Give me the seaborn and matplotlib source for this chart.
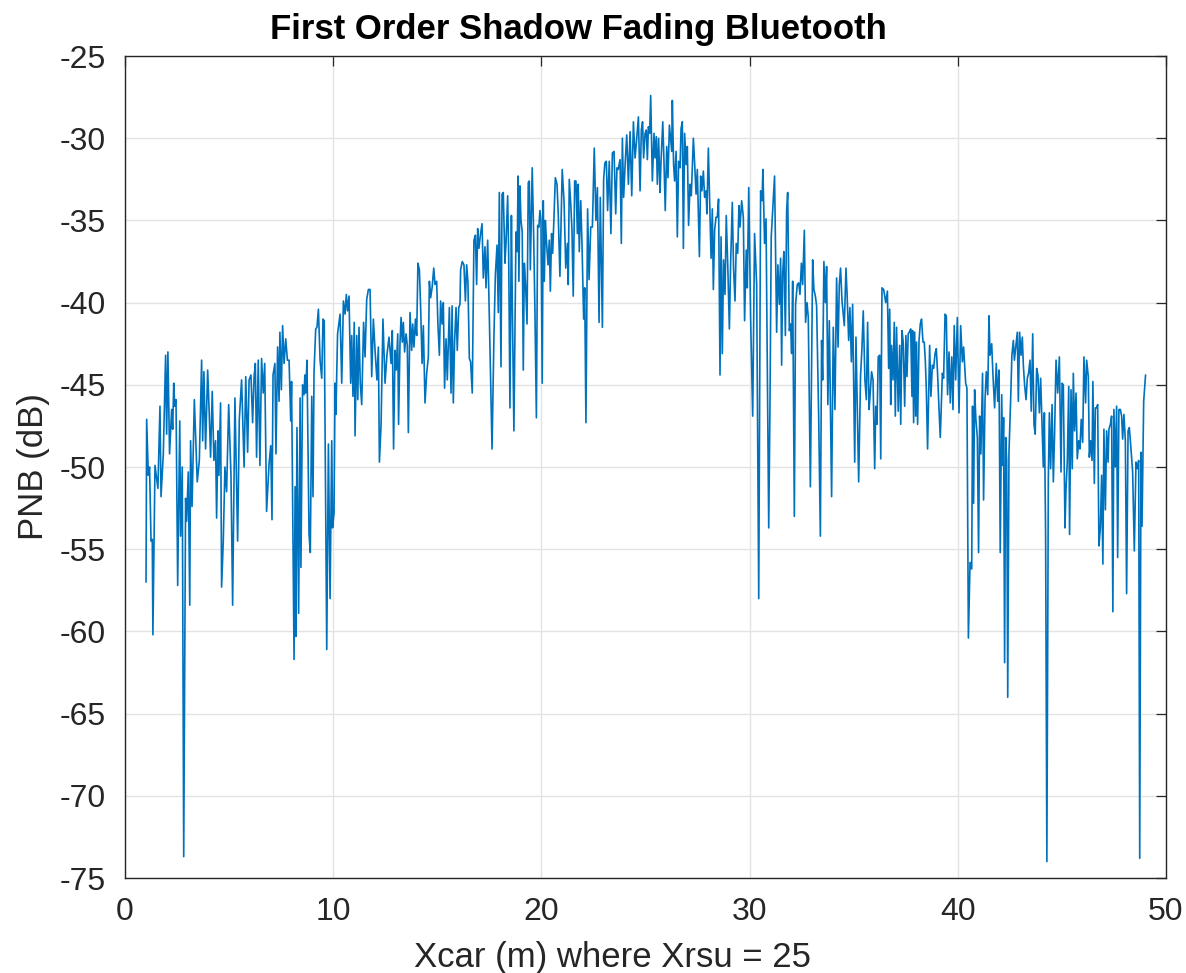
import numpy as np
import pandas as pd
import matplotlib
matplotlib.use("Agg")
import matplotlib.pyplot as plt
import seaborn as sns

# ------------------------------------------
# values, split in 8 stretches along Xcar
# ------------------------------------------
x1 = [1.01, 1.04, 1.12, 1.18, 1.25, 1.31, 1.34, 1.44, 1.52, 1.58,
      1.68, 1.73, 1.84, 1.95, 2.0, 2.06, 2.14, 2.24, 2.29, 2.34,
      2.39, 2.45, 2.53, 2.63, 2.67, 2.75, 2.82, 2.91, 2.96, 3.04,
      3.11, 3.15, 3.22, 3.33, 3.47, 3.57, 3.68, 3.73, 3.79, 3.87,
      3.97, 4.05, 4.11, 4.19, 4.27, 4.35, 4.4, 4.47, 4.51, 4.59,
      4.64, 4.72, 4.8, 4.88, 4.98, 5.09, 5.17, 5.28, 5.41, 5.49,
      5.6, 5.72, 5.8, 5.89, 5.96, 6.05, 6.13, 6.2, 6.26, 6.32,
      6.4, 6.48, 6.56, 6.64, 6.71, 6.8]
y1 = [-57.0, -47.1, -50.5, -50.0, -54.5, -54.4, -60.2, -49.9, -50.7, -51.3,
      -46.3, -51.8, -49.2, -43.2, -48.0, -43.0, -49.2, -46.5, -47.7, -44.9,
      -46.3, -45.9, -57.2, -47.2, -54.2, -50.0, -73.7, -51.9, -53.3, -50.3,
      -58.4, -48.4, -52.4, -45.9, -50.9, -49.6, -43.5, -48.4, -44.2, -48.9,
      -44.1, -46.9, -49.4, -45.4, -49.6, -48.4, -53.1, -47.8, -50.5, -46.1,
      -57.3, -54.5, -50.0, -51.5, -46.2, -50.5, -58.4, -45.8, -54.5, -47.1,
      -44.7, -50.0, -44.5, -49.1, -44.7, -44.4, -47.3, -44.5, -43.7, -49.4,
      -43.5, -49.9, -43.4, -45.5, -43.7, -52.7]

x2 = [6.92, 7.0, 7.06, 7.11, 7.2, 7.25, 7.33, 7.4, 7.44, 7.51,
      7.57, 7.64, 7.72, 7.8, 7.88, 7.96, 8.0, 8.12, 8.17, 8.21,
      8.26, 8.34, 8.41, 8.45, 8.53, 8.6, 8.64, 8.68, 8.74, 8.84,
      8.9, 8.97, 9.03, 9.08, 9.16, 9.22, 9.29, 9.37, 9.45, 9.51,
      9.57, 9.69, 9.77, 9.85, 9.93, 9.97, 10.04, 10.09, 10.13, 10.21,
      10.33, 10.41, 10.49, 10.57, 10.63, 10.69, 10.76, 10.84, 10.89, 10.95,
      11.01, 11.05, 11.13, 11.18, 11.24, 11.3, 11.37, 11.46, 11.53, 11.61,
      11.69, 11.77, 11.85, 11.93, 12.01, 12.1, 12.17, 12.22, 12.3, 12.39,
      12.49, 12.58, 12.68]
y2 = [-49.8, -48.7, -53.2, -44.4, -43.7, -49.2, -42.7, -46.0, -41.8, -45.3,
      -41.4, -43.7, -42.2, -43.5, -43.5, -47.2, -44.8, -61.7, -51.2, -60.3,
      -47.6, -58.9, -45.8, -56.1, -45.0, -45.6, -44.4, -45.5, -43.5, -54.1,
      -55.2, -45.7, -51.8, -44.2, -41.6, -41.5, -40.4, -43.5, -44.6, -41.0,
      -41.1, -61.1, -48.6, -58.0, -48.4, -53.7, -52.8, -44.9, -46.8, -41.9,
      -40.7, -44.9, -39.9, -40.7, -39.5, -40.5, -39.6, -44.9, -42.0, -45.7,
      -41.2, -48.1, -42.0, -45.9, -41.5, -44.9, -46.2, -41.2, -43.3, -39.8,
      -39.2, -39.2, -44.5, -41.0, -42.9, -44.7, -42.7, -49.7, -47.4, -41.0,
      -44.9, -43.2, -42.1]

x3 = [12.78, 12.84, 12.9, 12.97, 13.03, 13.1, 13.14, 13.21, 13.26, 13.32,
      13.37, 13.43, 13.5, 13.56, 13.61, 13.69, 13.77, 13.82, 13.88, 13.95,
      14.01, 14.07, 14.14, 14.2, 14.27, 14.33, 14.41, 14.49, 14.57, 14.62,
      14.68, 14.75, 14.83, 14.89, 14.97, 15.03, 15.1, 15.16, 15.23, 15.29,
      15.35, 15.42, 15.48, 15.58, 15.66, 15.71, 15.77, 15.83, 15.9, 15.96,
      16.03, 16.09, 16.12, 16.2, 16.28, 16.35, 16.41, 16.47, 16.54, 16.6,
      16.68, 16.76, 16.83, 16.89, 16.94, 17.0, 17.07, 17.15, 17.21, 17.29,
      17.34, 17.42, 17.5, 17.63, 17.72, 17.79, 17.87, 17.93, 17.98, 18.06,
      18.11, 18.17, 18.25, 18.3, 18.38, 18.43, 18.49, 18.56, 18.6, 18.68]
y3 = [-43.7, -41.7, -48.9, -42.9, -44.1, -41.9, -47.4, -42.4, -40.9, -42.4,
      -41.2, -43.0, -41.9, -42.6, -47.9, -40.6, -42.9, -41.3, -42.7, -41.0,
      -42.0, -37.6, -38.0, -40.3, -43.7, -41.4, -46.1, -44.3, -43.3, -38.7,
      -39.7, -39.1, -37.9, -38.9, -38.7, -41.3, -43.2, -39.9, -41.3, -40.0,
      -45.2, -42.2, -44.7, -40.3, -45.5, -40.2, -46.1, -42.4, -40.3, -42.9,
      -40.3, -40.1, -38.0, -37.5, -37.7, -39.9, -37.7, -38.7, -43.4, -43.6,
      -45.5, -36.2, -35.9, -38.9, -35.5, -36.7, -35.9, -35.2, -38.5, -36.6,
      -39.1, -36.2, -40.9, -48.9, -42.1, -38.3, -36.5, -40.6, -33.3, -43.9,
      -33.4, -33.3, -37.6, -36.4, -33.5, -37.2, -46.4, -34.7, -39.7, -47.8]

x4 = [18.78, 18.84, 18.88, 18.92, 18.97, 19.02, 19.08, 19.13, 19.18, 19.24,
      19.31, 19.37, 19.42, 19.47, 19.56, 19.63, 19.69, 19.76, 19.82, 19.88,
      19.93, 19.98, 20.04, 20.09, 20.14, 20.19, 20.25, 20.32, 20.38, 20.43,
      20.49, 20.54, 20.6, 20.67, 20.75, 20.81, 20.89, 21.0, 21.09, 21.17,
      21.25, 21.29, 21.34, 21.41, 21.47, 21.53, 21.6, 21.66, 21.73, 21.77,
      21.82, 21.89, 21.95, 22.03, 22.08, 22.14, 22.22, 22.29, 22.37, 22.45,
      22.54, 22.62, 22.69, 22.77, 22.83, 22.93, 22.99, 23.05, 23.12, 23.18,
      23.26, 23.34, 23.41, 23.49, 23.57, 23.63, 23.69, 23.78, 23.84, 23.89,
      23.95, 24.03, 24.1, 24.18, 24.26, 24.34, 24.42, 24.5, 24.58, 24.66]
y4 = [-35.7, -36.9, -32.3, -38.7, -32.9, -35.0, -35.7, -44.1, -37.6, -38.9,
      -41.3, -32.7, -32.6, -38.0, -31.8, -36.0, -40.5, -47.0, -35.3, -35.4,
      -34.4, -35.0, -44.9, -33.8, -38.7, -35.0, -36.4, -37.7, -36.2, -39.3,
      -35.8, -37.0, -35.0, -32.4, -32.8, -34.6, -38.4, -31.9, -33.9, -37.9,
      -36.4, -38.9, -32.5, -34.0, -35.6, -39.6, -32.6, -32.6, -35.8, -32.8,
      -36.9, -33.8, -36.4, -41.0, -39.1, -47.3, -34.3, -38.6, -35.4, -35.4,
      -30.6, -35.0, -33.0, -41.2, -33.6, -41.5, -32.5, -31.5, -31.4, -34.4,
      -31.4, -35.8, -30.9, -30.8, -34.6, -31.8, -31.9, -31.3, -36.4, -30.0,
      -33.6, -31.4, -29.8, -32.8, -29.6, -33.5, -29.0, -31.2, -30.0, -28.7]

x5 = [24.74, 24.8, 24.86, 24.91, 24.98, 25.04, 25.09, 25.14, 25.2, 25.25,
      25.33, 25.41, 25.46, 25.52, 25.57, 25.63, 25.7, 25.74, 25.83, 25.89,
      25.95, 26.02, 26.08, 26.15, 26.21, 26.26, 26.29, 26.35, 26.4, 26.47,
      26.53, 26.59, 26.66, 26.71, 26.77, 26.82, 26.88, 26.95, 27.01, 27.07,
      27.14, 27.2, 27.3, 27.36, 27.43, 27.49, 27.59, 27.65, 27.71, 27.78,
      27.84, 27.91, 27.95, 28.02, 28.08, 28.15, 28.21, 28.26, 28.32, 28.39,
      28.45, 28.51, 28.58, 28.63, 28.69, 28.75, 28.82, 28.88, 28.96, 29.03,
      29.09, 29.17, 29.23, 29.3, 29.36, 29.43, 29.49]
y5 = [-33.2, -29.5, -29.0, -31.2, -29.7, -29.5, -31.3, -29.3, -29.7, -27.4,
      -32.6, -29.7, -31.2, -29.9, -32.8, -30.0, -33.3, -31.6, -29.0, -31.5,
      -34.4, -30.5, -32.4, -29.2, -30.1, -30.8, -27.7, -31.6, -32.6, -30.8,
      -36.0, -31.4, -31.8, -29.4, -29.0, -36.7, -29.7, -31.6, -30.5, -35.3,
      -32.8, -33.5, -30.0, -31.5, -33.4, -31.9, -37.2, -32.3, -33.2, -32.0,
      -33.6, -33.2, -34.6, -30.6, -33.8, -37.3, -34.3, -39.2, -35.6, -34.8,
      -34.8, -33.7, -44.4, -36.0, -43.1, -37.4, -39.5, -34.7, -38.1, -41.6,
      -37.6, -33.9, -37.9, -39.9, -36.4, -37.0, -34.1]

x6 = [29.54, 29.62, 29.7, 29.76, 29.84, 29.89, 29.96, 30.05, 30.15, 30.24,
      30.34, 30.44, 30.53, 30.6, 30.64, 30.72, 30.79, 30.92, 30.98, 31.04,
      31.2, 31.3, 31.36, 31.43, 31.49, 31.54, 31.59, 31.65, 31.72, 31.78,
      31.83, 31.91, 31.97, 32.02, 32.07, 32.15, 32.21, 32.29, 32.36, 32.42,
      32.49, 32.55, 32.63, 32.69, 32.76, 32.82, 32.92, 33.03, 33.09, 33.16,
      33.22, 33.32, 33.4, 33.46, 33.51, 33.57, 33.64, 33.7, 33.76, 33.83,
      33.94, 34.02, 34.1, 34.18, 34.25, 34.31, 34.37, 34.44, 34.55, 34.63,
      34.69, 34.76, 34.82, 34.89, 34.95, 35.05, 35.11, 35.24, 35.33, 35.4,
      35.46]
y6 = [-35.4, -33.8, -34.8, -41.1, -36.8, -39.1, -33.0, -40.9, -46.9, -35.8,
      -38.9, -58.0, -33.2, -33.8, -31.9, -36.4, -34.9, -53.7, -46.2, -36.0,
      -32.3, -41.8, -37.7, -40.1, -37.3, -43.8, -38.2, -36.9, -42.0, -34.4,
      -33.3, -41.7, -41.3, -43.1, -38.7, -53.0, -40.1, -38.9, -38.8, -39.5,
      -37.6, -38.9, -35.6, -41.2, -40.0, -40.9, -51.2, -37.4, -39.2, -39.6,
      -40.2, -47.0, -54.2, -42.3, -44.7, -37.5, -40.0, -37.8, -46.2, -41.1,
      -51.8, -41.5, -46.5, -38.5, -42.7, -38.9, -37.9, -39.9, -41.4, -37.9,
      -39.7, -42.3, -40.3, -43.6, -40.1, -49.7, -42.1, -50.9, -44.5, -42.7,
      -40.5]

x7 = [35.54, 35.61, 35.67, 35.74, 35.8, 35.86, 35.93, 36.01, 36.06, 36.12,
      36.18, 36.25, 36.3, 36.36, 36.44, 36.54, 36.62, 36.68, 36.73, 36.78,
      36.82, 36.89, 36.95, 37.0, 37.06, 37.14, 37.21, 37.26, 37.32, 37.38,
      37.45, 37.51, 37.56, 37.62, 37.67, 37.74, 37.8, 37.83, 37.88, 37.93,
      37.98, 38.02, 38.07, 38.14, 38.2, 38.26, 38.33, 38.39, 38.44, 38.49,
      38.55, 38.65, 38.71, 38.78, 38.84, 38.91, 38.97, 39.03, 39.1, 39.16,
      39.26, 39.32, 39.39, 39.45, 39.51, 39.58, 39.64, 39.71, 39.77, 39.83,
      39.9, 39.98, 40.06, 40.14, 40.22, 40.28, 40.38, 40.44, 40.51, 40.59,
      40.67, 40.71, 40.76, 40.81, 40.87, 40.94, 41.0, 41.05, 41.11, 41.19,
      41.24, 41.31, 41.37, 41.44, 41.5]
y7 = [-44.7, -45.9, -41.2, -46.5, -45.4, -44.2, -44.7, -50.1, -46.3, -47.4,
      -43.3, -43.2, -49.5, -39.1, -39.2, -40.0, -39.3, -44.0, -40.4, -46.2,
      -42.6, -44.7, -41.2, -46.9, -41.5, -46.6, -42.6, -47.4, -41.7, -42.4,
      -46.3, -42.0, -44.5, -41.9, -41.8, -41.6, -45.7, -41.7, -47.3, -41.8,
      -46.9, -42.4, -47.4, -42.3, -41.3, -41.0, -42.4, -42.4, -43.5, -45.3,
      -48.9, -42.6, -45.7, -43.8, -44.0, -43.1, -42.8, -44.3, -46.5, -48.2,
      -44.3, -44.6, -40.7, -40.8, -45.6, -43.0, -46.1, -43.3, -46.5, -41.4,
      -44.7, -40.9, -46.7, -41.4, -43.6, -42.7, -44.9, -45.2, -60.4, -55.8,
      -56.2, -46.3, -52.2, -45.3, -47.1, -48.2, -55.2, -46.9, -49.2, -44.3,
      -52.0, -45.9, -44.2, -45.6, -40.8]

x8 = [41.55, 41.63, 41.69, 41.77, 41.85, 41.92, 41.98, 42.04, 42.11, 42.16,
      42.2, 42.25, 42.3, 42.35, 42.4, 42.46, 42.54, 42.6, 42.67, 42.72,
      42.8, 42.86, 42.91, 42.97, 43.04, 43.1, 43.15, 43.21, 43.28, 43.34,
      43.4, 43.47, 43.53, 43.6, 43.66, 43.72, 43.79, 43.85, 43.92, 43.98,
      44.04, 44.11, 44.16, 44.22, 44.28, 44.35, 44.4, 44.46, 44.53, 44.59,
      44.65, 44.72, 44.8, 44.88, 44.96, 45.01, 45.07, 45.12, 45.15, 45.2,
      45.26, 45.33, 45.37, 45.44, 45.5, 45.55, 45.61, 45.68, 45.74, 45.81,
      45.87, 45.93, 46.0, 46.06, 46.14, 46.19, 46.27, 46.32, 46.38, 46.45,
      46.49, 46.56, 46.61, 46.67, 46.72, 46.78, 46.85, 46.91, 46.97, 47.02,
      47.09, 47.15, 47.22, 47.26, 47.33, 47.39, 47.45, 47.5, 47.57, 47.63,
      47.68, 47.74, 47.81, 47.87, 47.92, 47.98, 48.05, 48.11, 48.18, 48.24,
      48.32, 48.4, 48.48, 48.56, 48.62, 48.69, 48.74, 48.8, 48.85, 48.93,
      49.02]
y8 = [-43.2, -42.5, -44.4, -46.4, -43.7, -46.0, -44.1, -55.2, -45.6, -49.9,
      -47.0, -61.9, -48.2, -49.6, -64.0, -49.1, -45.9, -43.2, -42.3, -43.5,
      -42.5, -41.8, -46.0, -41.8, -43.2, -42.1, -43.8, -45.0, -45.9, -44.6,
      -44.3, -43.5, -46.6, -41.9, -47.4, -48.0, -44.0, -44.4, -46.7, -44.6,
      -47.1, -50.0, -46.7, -54.2, -74.0, -50.7, -46.7, -50.1, -46.2, -50.9,
      -48.0, -43.5, -45.5, -43.3, -50.3, -44.9, -45.0, -50.5, -53.7, -51.3,
      -49.7, -45.1, -54.1, -45.3, -50.1, -44.3, -47.8, -45.5, -49.5, -48.4,
      -48.9, -47.1, -48.5, -43.3, -46.1, -43.5, -44.5, -49.4, -48.4, -49.6,
      -44.8, -51.0, -46.4, -46.4, -46.2, -54.8, -53.7, -50.5, -55.9, -47.7,
      -52.6, -47.8, -49.7, -47.7, -47.4, -46.9, -58.8, -46.5, -50.0, -46.3,
      -55.5, -46.5, -46.5, -46.9, -48.3, -46.8, -48.4, -57.7, -47.8, -47.6,
      -48.9, -50.3, -55.1, -49.7, -50.1, -49.6, -73.8, -49.1, -53.6, -46.0,
      -44.4]

x_ticks = [0, 10, 20, 30, 40, 50]
y_ticks = [-75, -70, -65, -60, -55, -50, -45, -40, -35, -30, -25]
title_txt = "First Order Shadow Fading Bluetooth"
xlabel_txt = "Xcar (m) where Xrsu = 25"
ylabel_txt = "PNB (dB)"

df = pd.DataFrame({
    "xcar": x1 + x2 + x3 + x4 + x5 + x6 + x7 + x8,
    "pnb": y1 + y2 + y3 + y4 + y5 + y6 + y7 + y8,
})

# ------------------------------------------
# matlab-ish look
# ------------------------------------------
sns.set_style("white")
plt.rcParams["font.family"] = ["Liberation Sans", "DejaVu Sans"]
plt.rcParams["axes.unicode_minus"] = False

fig = plt.figure(figsize=(11.86, 9.73), dpi=100)
ax = fig.add_axes([0.1054, 0.0976, 0.8777, 0.8448])

sns.lineplot(data=df, x="xcar", y="pnb", sort=False, estimator=None,
             color="#0072BD", linewidth=1.2, ax=ax)

ax.set_xlim(0, 50)
ax.set_ylim(-75, -25)
ax.set_xticks(x_ticks)
ax.set_yticks(y_ticks)
ax.grid(True, color="#e3e3e3", linewidth=1.0)
ax.set_axisbelow(True)

for side in ["left", "right", "top", "bottom"]:
    ax.spines[side].set_visible(True)
    ax.spines[side].set_color("#262626")
    ax.spines[side].set_linewidth(1.0)

ax.tick_params(axis="both", direction="in", length=7.5, width=0.9,
               top=True, right=True, colors="#262626",
               labelsize=23)
ax.tick_params(axis="x", pad=14)
ax.tick_params(axis="y", pad=14)

ax.set_title(title_txt, fontsize=25, fontweight="bold", color="black",
             x=0.436, pad=12)
ax.set_xlabel(xlabel_txt, fontsize=25, color="#262626")
ax.set_ylabel(ylabel_txt, fontsize=25, color="#262626")
ax.xaxis.set_label_coords(0.468, -0.076)
ax.yaxis.set_label_coords(-0.072, 0.5)

fig.savefig("out.png", dpi=100)
